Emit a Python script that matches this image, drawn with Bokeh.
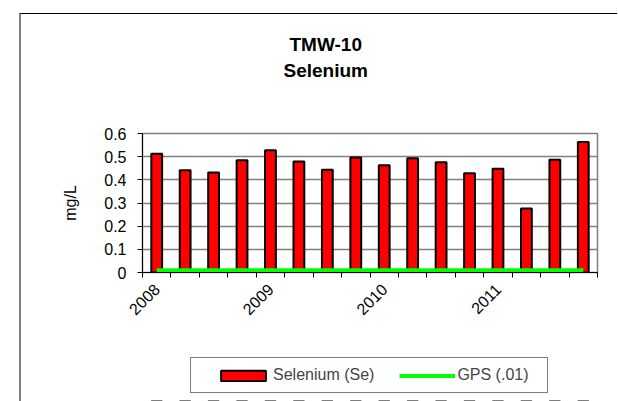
import math
import numpy as np
from bokeh.plotting import figure
from bokeh.layouts import column
from bokeh.models import FixedTicker, Legend, LegendItem, Title, Range1d
from bokeh.embed import file_html
from bokeh.resources import INLINE

# ---- data ----
quarters = ["2008 Q1", "2008 Q2", "2008 Q3", "2008 Q4",
            "2009 Q1", "2009 Q2", "2009 Q3", "2009 Q4",
            "2010 Q1", "2010 Q2", "2010 Q3", "2010 Q4",
            "2011 Q1", "2011 Q2", "2011 Q3", "2011 Q4"]
selenium = [0.513, 0.441, 0.432, 0.485, 0.528, 0.479, 0.443, 0.496,
            0.463, 0.493, 0.476, 0.428, 0.448, 0.276, 0.487, 0.563]
gps = [0.01] * len(quarters)
year_labels = ["2008", "2009", "2010", "2011"]
y_ticks = [0, 0.1, 0.2, 0.3, 0.4, 0.5, 0.6]

FONT = "Liberation Sans"
BAR_STYLE = dict(fill_color="#FF0000", line_color="black", line_width=2)
LINE_STYLE = dict(line_color="#00FF00", line_width=4)

x = np.arange(len(quarters)) + 0.5
year_pos = [x[i] for i in range(0, len(quarters), 4)]

p = figure(width=596, height=340, frame_width=455, frame_height=139,
           min_border_left=121, min_border_right=20,
           min_border_top=119, min_border_bottom=82,
           x_range=Range1d(0, len(quarters)), y_range=Range1d(0, 0.6),
           output_backend="svg", toolbar_location=None)

p.background_fill_color = "white"
p.border_fill_color = "white"
p.outline_line_color = "#808080"
p.outline_line_width = 1.5

p.vbar(x=x, top=selenium, width=0.38, bottom=0, **BAR_STYLE)
p.line(x=x, y=gps, **LINE_STYLE)

# x axis
xa = p.xaxis[0]
xa.ticker = FixedTicker(ticks=year_pos, minor_ticks=list(range(len(quarters) + 1)))
xa.major_label_overrides = {float(v): lab for v, lab in zip(year_pos, year_labels)}
xa.major_tick_out = 0
xa.major_tick_in = 0
xa.minor_tick_out = 5
xa.minor_tick_in = 0
xa.minor_tick_line_color = "black"
xa.axis_line_color = "black"
xa.major_label_orientation = math.pi / 4
xa.major_label_standoff = 9
xa.major_label_text_font = FONT
xa.major_label_text_font_size = "16px"
xa.major_label_text_color = "black"

# y axis
ya = p.yaxis[0]
ya.ticker = FixedTicker(ticks=y_ticks)
ya.major_tick_out = 5
ya.major_tick_in = 0
ya.minor_tick_line_color = None
ya.axis_line_color = "black"
ya.major_label_standoff = 11
ya.major_label_text_font = FONT
ya.major_label_text_font_size = "16px"
ya.major_label_text_color = "black"
ya.axis_label = "mg/L"
ya.axis_label_text_font = FONT
ya.axis_label_text_font_size = "16px"
ya.axis_label_text_font_style = "normal"
ya.axis_label_text_color = "black"
ya.axis_label_standoff = 22

p.xgrid.grid_line_color = None
p.ygrid.grid_line_color = "#808080"
p.ygrid.grid_line_width = 1.5

# titles (first added sits nearest the plot); a blank spacer title first
p.add_layout(Title(text=" ", standoff=50, text_font_size="1px"), "above")
p.add_layout(Title(text="Selenium", align="left", offset=141, standoff=0,
                   text_font=FONT, text_font_size="19px", text_font_style="bold",
                   text_color="black"), "above")
p.add_layout(Title(text="TMW-10", align="left", offset=147, standoff=6,
                   text_font=FONT, text_font_size="19px", text_font_style="bold",
                   text_color="black"), "above")

# legend strip below the chart (its own series sit outside its visible range)
p2 = figure(width=596, height=47, min_border=0,
            x_range=Range1d(0, len(quarters)), y_range=Range1d(1, 2),
            x_axis_type=None, y_axis_type=None,
            output_backend="svg", toolbar_location=None)
p2.outline_line_color = None
p2.background_fill_color = "white"
p2.border_fill_color = "white"
p2.xgrid.grid_line_color = None
p2.ygrid.grid_line_color = None
lb = p2.vbar(x=x, top=selenium, width=0.38, bottom=0, **BAR_STYLE)
ll = p2.line(x=x, y=gps, **LINE_STYLE)

legend = Legend(items=[LegendItem(label="Selenium (Se)", renderers=[lb]),
                       LegendItem(label="GPS (.01)", renderers=[ll])],
                location=(48, 8), orientation="horizontal", margin=0,
                glyph_width=56, glyph_height=13, label_standoff=2, spacing=25,
                padding=8, label_width=82,
                label_text_font=FONT, label_text_font_size="16px",
                border_line_color="black", border_line_width=1,
                background_fill_color="white", background_fill_alpha=1,
                title=" ", title_location="left", title_text_font_size="1px",
                title_standoff=15)
p2.add_layout(legend, "center")

layout = column(p, p2, spacing=0)
layout.styles = {"margin-left": "19px", "margin-top": "13px",
                 "border-left": "2px solid #808080", "border-top": "1px solid #000000"}

open("out.html", "w").write(file_html(layout, INLINE))
